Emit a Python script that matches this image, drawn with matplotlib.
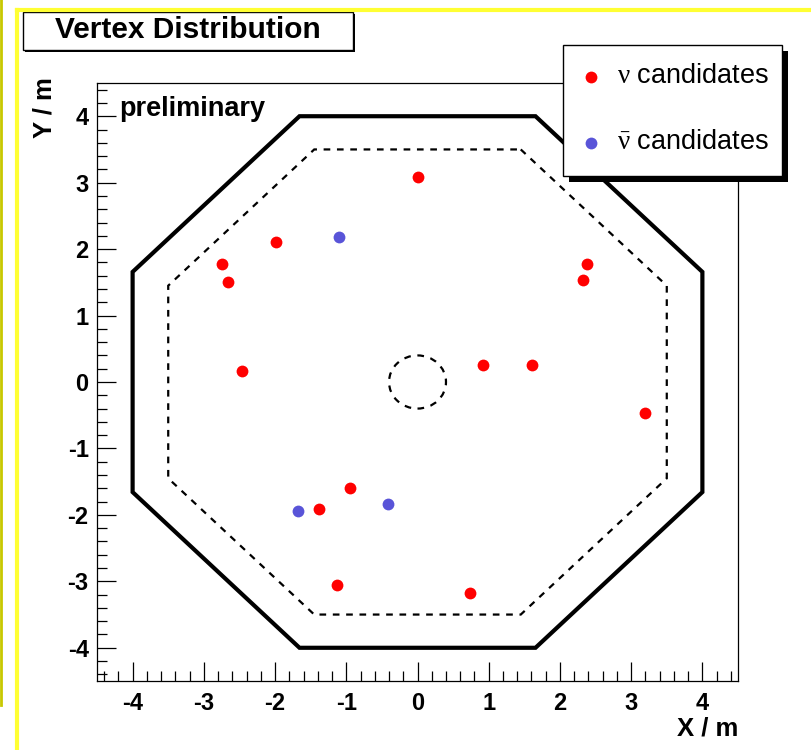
import numpy as np
import matplotlib
matplotlib.use('Agg')
import matplotlib.pyplot as plt
from matplotlib.lines import Line2D
from matplotlib.patches import Rectangle, Polygon, Circle
from matplotlib.ticker import MultipleLocator

plt.rcParams['font.family'] = ['Liberation Sans', 'DejaVu Sans']
plt.rcParams['mathtext.fontset'] = 'custom'
plt.rcParams['mathtext.rm'] = 'Liberation Serif'
plt.rcParams['mathtext.it'] = 'Liberation Serif:italic'

# neutrino candidate vertices (x, y in m)
nu_x = [0.00, -1.99, -2.74, -2.66, -2.46, 2.38, 2.32, 0.92, 1.61, 3.20, -0.95, -1.38, -1.13, 0.74]
nu_y = [3.09, 2.10, 1.78, 1.50, 0.17, 1.77, 1.53, 0.26, 0.25, -0.46, -1.60, -1.91, -3.06, -3.18]
# anti-neutrino candidate vertices
anu_x = [-1.10, -1.68, -0.42]
anu_y = [2.18, -1.94, -1.84]

# detector outline: octagon apothems and central circle radius
outer_apothem = 4.0
inner_apothem = 3.5
core_radius = 0.4

def octagon(a):
    h = a * np.tan(np.pi / 8)
    return [(h, a), (a, h), (a, -h), (h, -a), (-h, -a), (-a, -h), (-a, h), (-h, a)]

fig = plt.figure(figsize=(8.11, 7.5), dpi=100)
ax = fig.add_axes([97 / 811, 1 - 681 / 750, (738 - 97) / 811, (681 - 83) / 750])

ax.add_patch(Polygon(octagon(outer_apothem), closed=True, fill=False, lw=3, color='black'))
ax.add_patch(Polygon(octagon(inner_apothem), closed=True, fill=False, lw=1.6, color='black',
                     linestyle=(0, (3, 3))))
ax.add_patch(Circle((0, 0), core_radius, fill=False, lw=1.6, color='black', linestyle=(0, (3, 3))))

ax.plot(nu_x, nu_y, 'o', color='#ff0000', ms=8.5, mec='none')
ax.plot(anu_x, anu_y, 'o', color='#5954d8', ms=8.5, mec='none')

ax.set_xlim(-4.5, 4.5)
ax.set_ylim(-4.5, 4.5)
for s in ax.spines.values():
    s.set_linewidth(0.9)

ax.xaxis.set_major_locator(MultipleLocator(1))
ax.xaxis.set_minor_locator(MultipleLocator(0.2))
ax.yaxis.set_major_locator(MultipleLocator(1))
ax.yaxis.set_minor_locator(MultipleLocator(0.2))
ax.tick_params(which='major', direction='in', length=14, width=0.9, top=False, right=False)
ax.tick_params(which='minor', direction='in', length=7, width=0.9, top=False, right=False)
ax.tick_params(axis='x', which='major', pad=8)
ax.tick_params(axis='y', which='major', pad=6)
tick_font = dict(family=['Liberation Sans Narrow', 'Liberation Sans', 'DejaVu Sans'], weight='bold', size=17)
title_font = dict(family=['Liberation Sans Narrow', 'Liberation Sans', 'DejaVu Sans'], weight='bold', size=18.5)
ax.set_xticks([-4, -3, -2, -1, 0, 1, 2, 3, 4])
ax.set_yticks([-4, -3, -2, -1, 0, 1, 2, 3, 4])
ax.set_xticklabels(['-4', '-3', '-2', '-1', '0', '1', '2', '3', '4'], fontdict=tick_font)
ax.set_yticklabels(['-4', '-3', '-2', '-1', '0', '1', '2', '3', '4'], fontdict=tick_font)

fig.text(738 / 811, 1 - 717 / 750, 'X / m', ha='right', va='top', fontdict=title_font)
fig.text(44 / 811, 1 - 77 / 750, 'Y / m', ha='center', va='top', rotation=90, fontdict=title_font)

ax.text(0.034, 0.978, 'preliminary', transform=ax.transAxes, ha='left', va='top',
        fontsize=19.5, fontweight='bold')

# yellow frame lines
fig.add_artist(Line2D([1 / 811, 1 / 811], [1, 1 - 705 / 750], color='#c8c800', lw=2))
fig.add_artist(Line2D([17 / 811, 17 / 811], [0, 1 - 10 / 750], color='#ffff33', lw=3))
fig.add_artist(Line2D([17 / 811, 1], [1 - 10 / 750, 1 - 10 / 750], color='#ffff33', lw=3))

# title box with shadow
fig.add_artist(Rectangle((25 / 811, 1 - 52 / 750), 330 / 811, 38 / 750, transform=fig.transFigure,
                         facecolor='black', edgecolor='black', lw=0))
fig.add_artist(Rectangle((23 / 811, 1 - 50 / 750), 330 / 811, 38 / 750, transform=fig.transFigure,
                         facecolor='white', edgecolor='black', lw=1))
fig.text(188 / 811, 1 - 30 / 750, 'Vertex Distribution', ha='center', va='center',
         fontsize=21.5, fontweight='bold')

# legend box with shadow
fig.add_artist(Rectangle((569 / 811, 1 - 182 / 750), 219 / 811, 131 / 750, transform=fig.transFigure,
                         facecolor='black', edgecolor='black', lw=0))
fig.add_artist(Rectangle((563 / 811, 1 - 176 / 750), 219 / 811, 131 / 750, transform=fig.transFigure,
                         facecolor='white', edgecolor='black', lw=1))
fig.add_artist(Line2D([591 / 811], [1 - 77 / 750], marker='o', color='#ff0000', ms=8.5, mec='none', ls=''))
fig.add_artist(Line2D([591 / 811], [1 - 143 / 750], marker='o', color='#5954d8', ms=8.5, mec='none', ls=''))
fig.text(617 / 811, 1 - 76 / 750, r'$\mathrm{\nu}$ candidates', ha='left', va='center', fontsize=19.5)
fig.text(617 / 811, 1 - 142 / 750, r'$\bar{\mathrm{\nu}}$ candidates', ha='left', va='center', fontsize=19.5)

fig.savefig('out.png', dpi=100)
